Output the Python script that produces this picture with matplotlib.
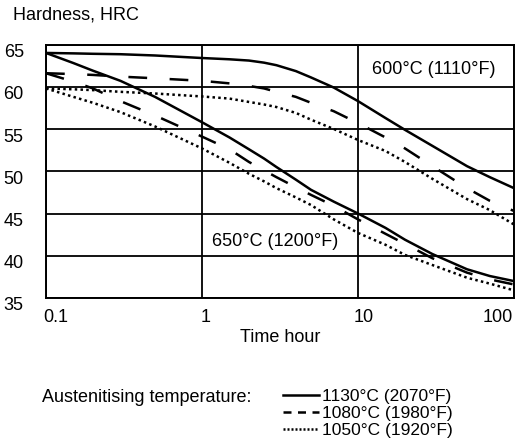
import matplotlib.pyplot as plt
import matplotlib.transforms as mtrans
from matplotlib.lines import Line2D

plt.rcParams['font.family'] = ['Liberation Sans', 'DejaVu Sans']

# time in hours (log axis)
tempo = [0.1, 0.15, 0.2, 0.3, 0.5, 1, 1.5, 2, 2.5, 3, 4, 5, 7, 10, 15, 20, 30, 50, 70, 100]

# tempering at 600 C
dur_600_1130 = [64.0, 63.95, 63.9, 63.85, 63.7, 63.4, 63.25, 63.1, 62.85, 62.55, 61.85, 61.1, 59.9, 58.3, 56.3, 54.9, 53.0, 50.6, 49.3, 48.0]
dur_600_1080 = [61.6, 61.5, 61.4, 61.2, 61.0, 60.7, 60.4, 60.1, 59.8, 59.4, 58.8, 58.1, 57.1, 55.7, 54.0, 52.7, 50.6, 48.0, 46.5, 45.3]
dur_600_1050 = [59.8, 59.7, 59.6, 59.4, 59.2, 58.85, 58.6, 58.2, 57.9, 57.6, 56.9, 56.1, 55.0, 53.7, 52.4, 51.1, 49.1, 46.7, 45.4, 43.7]

# tempering at 650 C
dur_650_1130 = [64.0, 62.8, 61.9, 60.7, 58.8, 55.8, 54.0, 52.6, 51.5, 50.5, 49.0, 47.8, 46.4, 45.0, 43.3, 41.9, 40.2, 38.4, 37.6, 37.0]
dur_650_1080 = [61.6, 60.6, 59.8, 58.3, 56.6, 54.1, 52.6, 51.1, 50.1, 49.3, 48.1, 47.2, 45.9, 44.3, 42.6, 41.4, 39.7, 38.0, 37.2, 36.6]
dur_650_1050 = [59.8, 58.8, 58.1, 57.0, 55.3, 52.7, 51.0, 49.7, 48.8, 48.0, 46.9, 46.0, 44.3, 42.7, 41.3, 40.1, 38.9, 37.4, 36.7, 35.9]

legendas = ['1130°C (2070°F)', '1080°C (1980°F)', '1050°C (1920°F)']
estilos = ['-', (0, (7.5, 9)), (0, (1, 1.3))]
estilos_leg = ['-', (0, (3.2, 2.6)), (0, (0.8, 0.8))]

W, H = 528, 441
fig = plt.figure(figsize=(W / 100, H / 100), dpi=100)
ax = fig.add_axes([46 / W, 1 - 298 / H, 468 / W, 253.5 / H])

lw = 1.8
for y, ls in zip([dur_600_1130, dur_600_1080, dur_600_1050], estilos):
    ax.plot(tempo, y, color='black', lw=lw, linestyle=ls)
for y, ls in zip([dur_650_1130, dur_650_1080, dur_650_1050], estilos):
    ax.plot(tempo, y, color='black', lw=lw, linestyle=ls)

ax.set_xscale('log')
ax.set_xlim(0.1, 100)
ax.set_ylim(35, 65)
ax.set_xticks([0.1, 1, 10, 100])
ax.set_xticklabels(['0.1', '1', '10', '100'])
ax.minorticks_off()
ax.set_yticks([35, 40, 45, 50, 55, 60, 65])
ax.grid(True, color='black', linewidth=1.3)
for s in ax.spines.values():
    s.set_linewidth(1.4)
ax.tick_params(length=0, labelsize=13, pad=16)
ax.tick_params(axis='x', pad=8)

for lab in ax.get_yticklabels():
    lab.set_transform(lab.get_transform() + mtrans.ScaledTranslation(0, -6 / 100, fig.dpi_scale_trans))
for lab, dx in zip(ax.get_xticklabels(), [10, 4, 6, -16]):
    lab.set_transform(lab.get_transform() + mtrans.ScaledTranslation(dx / 100, 0, fig.dpi_scale_trans))

ax.set_xlabel('Time hour', fontsize=13, labelpad=2)
fig.text(13 / W, 1 - 15 / H, 'Hardness, HRC', fontsize=13, va='center', ha='left')

fig.text(372 / W, 1 - 69 / H, '600°C (1110°F)', fontsize=13, va='center', ha='left')
fig.text(212 / W, 1 - 241 / H, '650°C (1200°F)', fontsize=13, va='center', ha='left')

fig.text(42 / W, 1 - 398 / H, 'Austenitising temperature:', fontsize=13, va='center', ha='left')
amostras = [Line2D([], [], color='black', lw=lw, linestyle=ls) for ls in estilos_leg]
fig.legend(handles=amostras, labels=legendas, loc='upper left', bbox_to_anchor=(283 / W, 1 - 389 / H),
           frameon=False, fontsize=12.5, borderpad=0, borderaxespad=0,
           handlelength=2.1, handletextpad=0.15, labelspacing=0.1)

fig.savefig('out.png', dpi=100)
